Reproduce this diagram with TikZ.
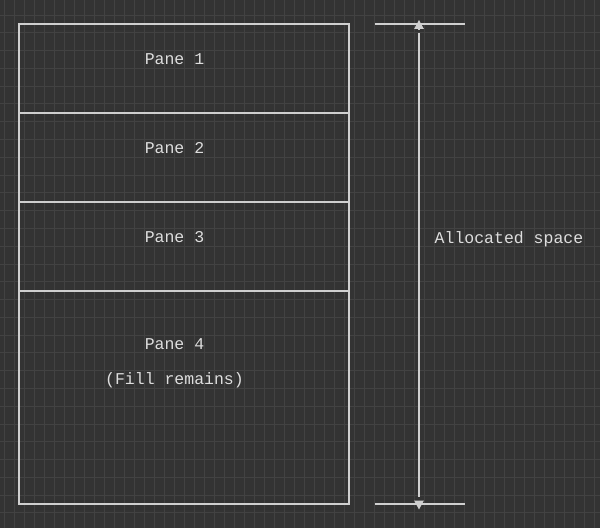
\documentclass[tikz,border=0pt]{standalone}
\usepackage{fontspec}
\usepackage{tikz}
\usetikzlibrary{arrows.meta,positioning}
\newfontfamily\panefont{Liberation Mono}
\definecolor{bgdark}{RGB}{51,51,51}
\definecolor{gridgrey}{RGB}{66,66,66}
\definecolor{lightline}{RGB}{208,208,208}
\definecolor{lighttext}{RGB}{222,222,222}
\tikzstyle{pane}=[shape=rectangle,draw=lightline,line width=1.2pt,minimum width=330pt,inner sep=0pt,outer sep=0pt]
\tikzstyle{panelabel}=[font=\panefont\fontsize{16.5}{20}\selectfont,text=lighttext,anchor=base,inner sep=0pt]
\tikzstyle{extline}=[draw=lightline,line width=1.2pt]
\tikzstyle{dimtip}=[draw=lightline,line width=1.2pt,-{Triangle[width=9.5pt,length=9pt]}]

\begin{document}
\begin{tikzpicture}[x=1pt,y=1pt]
 \useasboundingbox[fill=bgdark] (0,0) rectangle (600,528);
 \draw[gridgrey,line width=0.8pt,xstep=10,ystep=17.78,shift={(4,15.16)}] (-4,-15.16) grid (596,512.84);

 % stacked panes
 \node[pane,minimum height=89pt] (pane1) at (184,459.5) {};
 \node[pane,minimum height=89pt,below=0pt of pane1] (pane2) {};
 \node[pane,minimum height=89pt,below=0pt of pane2] (pane3) {};
 \node[pane,minimum height=213pt,below=0pt of pane3] (pane4) {};

 \node[panelabel] (lab1) at (174.5,463) {Pane 1};
 \node[panelabel] (lab2) at (174.5,374) {Pane 2};
 \node[panelabel] (lab3) at (174.5,285) {Pane 3};
 \node[panelabel] (lab4) at (174.5,178.7) {Pane 4};
 \node[panelabel] (fill) at (174.5,143) {(Fill remains)};

 % allocated space
 \coordinate (toplft) at (375,504);
 \coordinate (toprgt) at (465,504);
 \coordinate (botlft) at (375,24);
 \coordinate (botrgt) at (465,24);
 \coordinate (arrtop) at (419,508);
 \coordinate (arrtopb) at (419,499);
 \coordinate (linetop) at (419,495);
 \coordinate (linebot) at (419,31);
 \coordinate (arrbotb) at (419,27.5);
 \coordinate (arrbot) at (419,18.5);
 \node[panelabel,anchor=base west] (alloc) at (434.5,284.7) {Allocated space};

\path
(toplft) edge [extline] (toprgt)
(botlft) edge [extline] (botrgt)
(linetop) edge [extline] (linebot)
(arrtopb) edge [dimtip] (arrtop)
(arrbotb) edge [dimtip] (arrbot);

\end{tikzpicture}
\end{document}
